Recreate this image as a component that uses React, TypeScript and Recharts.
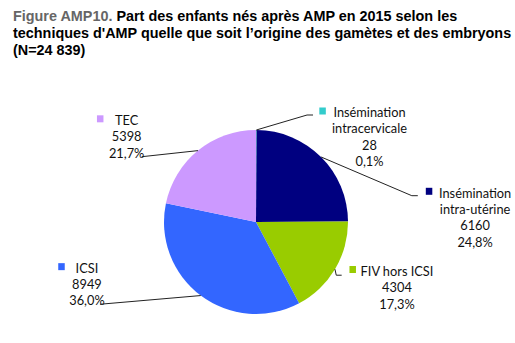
import React from "react";
import { PieChart, Pie, Cell } from "recharts";

const categories = [
  "Insémination\nintracervicale",
  "Insémination\nintra-utérine",
  "FIV hors ICSI",
  "ICSI",
  "TEC",
];
const values = [28, 6160, 4304, 8949, 5398];
const colors = ["#33CCCC", "#000080", "#99CC00", "#3366FF", "#CC99FF"];

const total = values.reduce((a, b) => a + b, 0);
const data = categories.map((name, i) => ({ name, value: values[i] }));

// label layout, relative to the slice's outer edge point at its mid-angle
const labelLayout = [
  { pts: [[50.7, -15], [56.7, -15]], sq: [66, -19], tx: 113.2, ty: -18 },
  { pts: [[90.7, 38.7], [96.7, 38.7]], sq: [107.7, 34.3], tx: 154, ty: 35.7 },
  { pts: [[1.3, 6], [6.7, 6]], sq: [17.5, 0.3], tx: 62, ty: 1.7 },
  { pts: [[-100.8, 8.7]], sq: [-139.5, -28.9], tx: -113.8, ty: -27.9 },
  { pts: [[-56.3, 6.1]], sq: [-98, -31.8], tx: -71.3, ty: -30.6 },
];

const RAD = Math.PI / 180;
const LINE = 16.4;

const renderLabel = (props: any) => {
  const { cx, cy, midAngle, outerRadius, index } = props;
  const ex = cx + outerRadius * Math.cos(-midAngle * RAD);
  const ey = cy + outerRadius * Math.sin(-midAngle * RAD);
  const lay = labelLayout[index];
  const pts = [[ex, ey], ...lay.pts.map(([dx, dy]) => [ex + dx, ey + dy])];
  const lines = [
    ...categories[index].split("\n"),
    String(values[index]),
    ((values[index] / total) * 100).toFixed(1).replace(".", ",") + "%",
  ];
  const tx = ex + lay.tx;
  const ty = ey + lay.ty;
  return (
    <g key={`lbl-${index}`}>
      <polyline
        points={pts.map((p) => p.join(",")).join(" ")}
        fill="none"
        stroke="#222"
        strokeWidth={1}
      />
      <rect
        x={ex + lay.sq[0] - 3}
        y={ey + lay.sq[1] - 3.5}
        width={6.5}
        height={7}
        fill={colors[index]}
      />
      {lines.map((t, j) => (
        <text
          key={j}
          x={tx}
          y={ty + j * LINE}
          textAnchor="middle"
          dominantBaseline="central"
          fontFamily="Lato, 'Open Sans', sans-serif"
          fontSize={12.8}
          fill="#111"
        >
          {t}
        </text>
      ))}
    </g>
  );
};

export default function App() {
  return (
    <div
      style={{
        position: "absolute",
        left: 0,
        top: 0,
        width: 515,
        height: 343,
        background: "#fff",
      }}
    >
      <div
        style={{
          position: "absolute",
          left: 13,
          top: 8,
          width: 505,
          fontFamily: "'Liberation Sans', Arial, sans-serif",
          fontWeight: "bold",
          fontSize: 14.4,
          lineHeight: "17px",
          color: "#000",
          whiteSpace: "nowrap",
        }}
      >
        <span style={{ color: "#666" }}>Figure AMP10.</span> Part des enfants
        nés après AMP en 2015 selon les
        <br />
        techniques d'AMP quelle que soit l’origine des gamètes et des embryons
        <br />
        (N=24 839)
      </div>
      <PieChart
        width={515}
        height={343}
        margin={{ top: 0, right: 0, bottom: 0, left: 0 }}
        style={{ position: "absolute", left: 0, top: 0 }}
      >
        <Pie
          data={data}
          dataKey="value"
          nameKey="name"
          cx={256}
          cy={222}
          outerRadius={92}
          startAngle={90}
          endAngle={-270}
          stroke="none"
          isAnimationActive={false}
          label={renderLabel}
          labelLine={false}
        >
          {data.map((d, i) => (
            <Cell key={i} fill={colors[i]} />
          ))}
        </Pie>
      </PieChart>
    </div>
  );
}
